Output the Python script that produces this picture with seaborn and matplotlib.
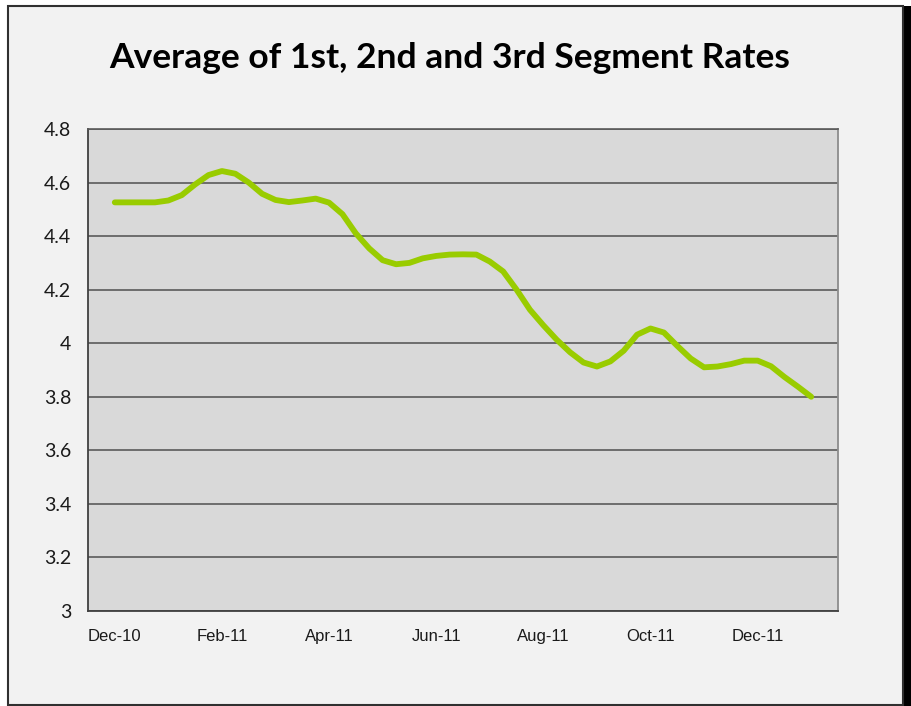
import numpy as np
import pandas as pd
import matplotlib
matplotlib.use("Agg")
import matplotlib.pyplot as plt
from matplotlib.patches import Rectangle
import seaborn as sns

# Data: months counted from 1 Dec 2010, quarter-month steps
months = np.arange(0.5, 13.51, 0.25)
rates = [4.526, 4.526, 4.526, 4.526, 4.533, 4.553, 4.593, 4.628, 4.643, 4.633,
         4.600, 4.558, 4.535, 4.527, 4.533, 4.540, 4.525, 4.482, 4.410, 4.354,
         4.310, 4.295, 4.300, 4.317, 4.326, 4.331, 4.332, 4.331, 4.305, 4.268,
         4.200, 4.125, 4.067, 4.013, 3.966, 3.928, 3.913, 3.932, 3.972, 4.032,
         4.055, 4.040, 3.990, 3.943, 3.910, 3.913, 3.922, 3.935, 3.935, 3.914,
         3.874, 3.838, 3.800]
tick_labels = ['Dec-10', 'Feb-11', 'Apr-11', 'Jun-11', 'Aug-11', 'Oct-11', 'Dec-11']
y_ticks = [3, 3.2, 3.4, 3.6, 3.8, 4, 4.2, 4.4, 4.6, 4.8]

df = pd.DataFrame({'month': months, 'rate': rates})

sns.set_style("white")
plt.rcParams['font.family'] = ['Liberation Sans', 'DejaVu Sans']

fig = plt.figure(figsize=(9.11, 7.06), dpi=100, facecolor='white')

# chart area frame with shadow on the right
fig.patches.append(Rectangle((903 / 911, 0), 8 / 911, 1 - 6 / 706,
                             transform=fig.transFigure, facecolor='black',
                             edgecolor='none', zorder=-3))
fig.patches.append(Rectangle((8 / 911, 1 / 706), 895 / 911, 1 - 7 / 706,
                             transform=fig.transFigure, facecolor='#f2f2f2',
                             edgecolor='#303030', linewidth=1.5, zorder=-2))

ax = fig.add_axes([88 / 911, 1 - 611 / 706, 750 / 911, 482 / 706])
ax.set_facecolor('#d9d9d9')

sns.lineplot(data=df, x='month', y='rate', ax=ax, color='#99cc00',
             linewidth=4.2, solid_joinstyle='round', solid_capstyle='round',
             zorder=3)

ax.set_xlim(0, 14)
ax.set_ylim(3, 4.8)
ax.set_yticks(y_ticks)
ax.set_yticklabels([f'{v:g}' for v in y_ticks], fontsize=14,
                   family=['Lato', 'DejaVu Sans'], color='#1a1a1a')
ax.yaxis.grid(True, color='#5a5a5a', linewidth=1.2)
ax.set_axisbelow(True)

# tick marks between labels, labels centred on months
ax.set_xticks(np.arange(0, 15, 2))
ax.set_xticklabels([])
ax.set_xticks(np.arange(0.5, 13, 2), minor=True)
ax.set_xticklabels(tick_labels, minor=True, fontsize=12, color='#1a1a1a')
ax.tick_params(axis='x', which='major', direction='out', length=5,
               width=1, color='#404040')
ax.tick_params(axis='x', which='minor', length=0, pad=13)
ax.tick_params(axis='y', direction='out', length=6, width=1,
               color='#404040', pad=6)

ax.set_xlabel('')
ax.set_ylabel('')
for side in ['left', 'bottom']:
    ax.spines[side].set_color('#404040')
    ax.spines[side].set_linewidth(1.3)
ax.spines['right'].set_color('#8c8c8c')
ax.spines['right'].set_linewidth(1.3)
ax.spines['top'].set_color('#5a5a5a')
ax.spines['top'].set_linewidth(1.2)

fig.text(450 / 911, 1 - 58 / 706, 'Average of 1st, 2nd and 3rd Segment Rates',
         ha='center', va='center', fontsize=25.5, fontweight='bold',
         family=['Lato', 'DejaVu Sans'], color='black')

fig.savefig('out.png', dpi=100, facecolor=fig.get_facecolor())
